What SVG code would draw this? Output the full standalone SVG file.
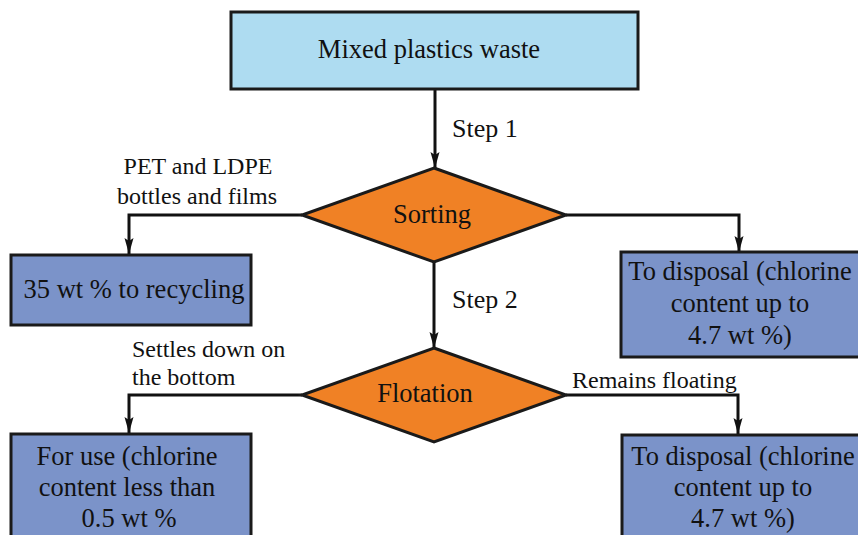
<svg xmlns="http://www.w3.org/2000/svg" width="858" height="535" viewBox="0 0 858 535">
<defs>
<marker id="arr" markerWidth="17" markerHeight="10" refX="16" refY="5" orient="auto" markerUnits="userSpaceOnUse" viewBox="0 0 17 10">
<path d="M0,0.5 L16,5 L0,9.5 L3,5 Z" fill="#111"/>
</marker>
<style>
text{fill:#111;font-family:"Liberation Serif","Times New Roman",serif;}
.t{font-size:26.5px;text-anchor:middle;}
.l{font-size:24px;}
.s{font-size:26px;}
.box{stroke:#1a1a1a;stroke-width:3;}
.top{fill:#AEDCF1;}
.blue{fill:#7B93C9;}
.dia{fill:#F08125;stroke:#1a1a1a;stroke-width:3;}
.c{fill:none;stroke:#111;stroke-width:3;}
</style>
</defs>
<rect width="858" height="535" fill="#fff"/>
<g id="connectors">
<path class="c" d="M435,89 V168" marker-end="url(#arr)"/>
<path class="c" d="M302,215 H129 V254" marker-end="url(#arr)"/>
<path class="c" d="M566,215 H739 V252" marker-end="url(#arr)"/>
<path class="c" d="M434,262 V348" marker-end="url(#arr)"/>
<path class="c" d="M302,395 H129 V433" marker-end="url(#arr)"/>
<path class="c" d="M566,395 H738 V434" marker-end="url(#arr)"/>
</g>
<g id="labels">
<text class="s" x="452" y="137">Step 1</text>
<text class="s" x="452" y="308">Step 2</text>
<text class="l" x="198" y="174" text-anchor="middle">PET and LDPE</text>
<text class="l" x="197" y="204" text-anchor="middle">bottles and films</text>
<text class="l" x="132" y="357">Settles down on</text>
<text class="l" x="132" y="385">the bottom</text>
<text class="l" x="572" y="388">Remains floating</text>
</g>
<g id="n-waste">
<rect class="box top" x="231" y="12" width="407" height="77"/>
<text class="t" x="429" y="58">Mixed plastics waste</text>
</g>
<g id="n-sorting">
<polygon class="dia" points="434,168 566,215 434,262 302,215"/>
<text class="t" x="432" y="223">Sorting</text>
</g>
<g id="n-recycling">
<rect class="box blue" x="11" y="255" width="240" height="70"/>
<text class="t" x="134" y="298">35 wt % to recycling</text>
</g>
<g id="n-disposal1">
<rect class="box blue" x="621" y="252" width="240" height="105"/>
<text class="t" x="740" y="280">To disposal (chlorine</text>
<text class="t" x="740" y="312">content up to</text>
<text class="t" x="740" y="344">4.7 wt %)</text>
</g>
<g id="n-flotation">
<polygon class="dia" points="434,348 566,395 434,442 302,395"/>
<text class="t" x="425" y="402">Flotation</text>
</g>
<g id="n-use">
<rect class="box blue" x="11" y="434" width="240" height="105"/>
<text class="t" x="127" y="465">For use (chlorine</text>
<text class="t" x="127" y="496">content less than</text>
<text class="t" x="129" y="527">0.5 wt %</text>
</g>
<g id="n-disposal2">
<rect class="box blue" x="622" y="435" width="240" height="105"/>
<text class="t" x="743" y="465">To disposal (chlorine</text>
<text class="t" x="743" y="496">content up to</text>
<text class="t" x="743" y="527">4.7 wt %)</text>
</g>
</svg>
